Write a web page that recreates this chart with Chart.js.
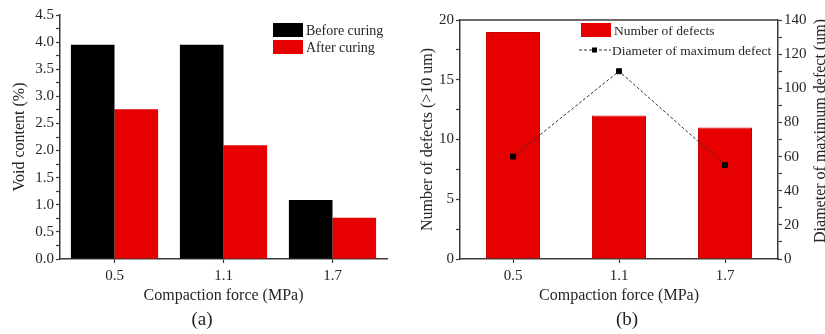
<!DOCTYPE html>
<html>
<head>
<meta charset="utf-8">
<script src="https://cdn.jsdelivr.net/npm/chart.js@4.4.0/dist/chart.umd.min.js"></script>
<style>
  body { margin: 0; background: #fff; }
  #wrap { position: relative; width: 825px; height: 334px; overflow: hidden; background: #fff; }
  canvas { position: absolute; top: 0; }
  .tag { position: absolute; top: 308px; font: 19px "Liberation Serif", serif; color: #222; transform: translateX(-50%); }
</style>
</head>
<body>
<div id="wrap">
  <canvas id="chartA" width="410" height="334" style="left:0"></canvas>
  <canvas id="chartB" width="415" height="334" style="left:410px"></canvas>
  <div class="tag" style="left:202px">(a)</div>
  <div class="tag" style="left:627px">(b)</div>
</div>
<script>
// data
const categories = ['0.5', '1.1', '1.7'];
const beforeCuring = [3.95, 3.95, 1.09];
const afterCuring = [2.76, 2.10, 0.76];
const defectCount = [19, 12, 11];
const maxDefectDiameter = [60, 110, 55];

const AXIS = '#3a3a3a';
const TEXT = '#262626';
const RED = '#e60000';

Chart.defaults.font.family = '"Liberation Serif", serif';
Chart.defaults.font.size = 15;
Chart.defaults.color = TEXT;

// labels only on every second tick, the others stay as minor ticks
function majorEvery(step, digits) {
  return v => Math.abs(v / step - Math.round(v / step)) < 1e-6 ? v.toFixed(digits) : '';
}

function axisGrid() {
  return {
    drawOnChartArea: false,
    drawTicks: true,
    tickLength: 4,
    tickColor: AXIS,
    tickWidth: 1.2
  };
}

// legend drawn inside the plot, like the original
function makeLegend(items, fontSize) {
  return {
    id: 'insideLegend',
    afterDraw(chart) {
      const ctx = chart.ctx;
      ctx.save();
      ctx.font = fontSize + 'px "Liberation Serif"';
      ctx.textBaseline = 'middle';
      items.forEach(it => {
        const ds = chart.data.datasets[it.index];
        if (it.kind === 'box') {
          ctx.fillStyle = ds.backgroundColor;
          ctx.fillRect(it.x, it.y, 30, 14);
        } else {
          ctx.strokeStyle = ds.borderColor;
          ctx.lineWidth = 1;
          ctx.setLineDash([3, 2]);
          ctx.beginPath();
          ctx.moveTo(it.x, it.y + 7);
          ctx.lineTo(it.x + 32, it.y + 7);
          ctx.stroke();
          ctx.setLineDash([]);
          ctx.fillStyle = '#000';
          ctx.fillRect(it.x + 13, it.y + 4.5, 5, 5);
        }
        ctx.fillStyle = TEXT;
        ctx.fillText(ds.label, it.x + 33, it.y + 8);
      });
      ctx.restore();
    }
  };
}

// chart (a)
new Chart(document.getElementById('chartA'), {
  type: 'bar',
  data: {
    labels: categories,
    datasets: [
      { label: 'Before curing', data: beforeCuring, backgroundColor: '#000', categoryPercentage: 0.8, barPercentage: 1.0 },
      { label: 'After curing', data: afterCuring, backgroundColor: RED, categoryPercentage: 0.8, barPercentage: 1.0 }
    ]
  },
  options: {
    responsive: false,
    animation: false,
    layout: { padding: { top: 15, right: 23, bottom: 29, left: 0 } },
    plugins: { legend: { display: false }, tooltip: { enabled: false } },
    scales: {
      x: {
        grid: Object.assign(axisGrid(), { offset: false }),
        border: { color: AXIS, width: 1.5 },
        ticks: { padding: 4 },
        title: { display: true, text: 'Compaction force (MPa)', font: { size: 16 }, padding: 0 },
        afterFit(scale) { scale.height = 46; }
      },
      y: {
        min: 0,
        max: 4.5,
        grid: axisGrid(),
        border: { color: AXIS, width: 1.5 },
        ticks: { stepSize: 0.25, autoSkip: false, padding: 2, callback: majorEvery(0.5, 1) },
        title: { display: true, text: 'Void content (%)', font: { size: 16 }, padding: { top: 10, bottom: 0 } },
        afterFit(scale) { scale.width = 60; }
      }
    }
  },
  plugins: [makeLegend([
    { index: 0, kind: 'box', x: 273, y: 23 },
    { index: 1, kind: 'box', x: 273, y: 40 }
  ], 14)]
});

// top border and the right-hand title of chart (b)
const frameB = {
  id: 'frameB',
  afterDraw(chart) {
    const { ctx, chartArea } = chart;
    ctx.save();
    ctx.strokeStyle = AXIS;
    ctx.lineWidth = 1.5;
    ctx.beginPath();
    ctx.moveTo(chartArea.left, chartArea.top);
    ctx.lineTo(chartArea.right, chartArea.top);
    ctx.stroke();
    ctx.translate(411, 131);
    ctx.rotate(-Math.PI / 2);
    ctx.textAlign = 'center';
    ctx.textBaseline = 'middle';
    ctx.font = '16px "Liberation Serif"';
    ctx.fillStyle = TEXT;
    ctx.fillText('Diameter of maximum defect (um)', 0, 0);
    ctx.restore();
  }
};

// chart (b)
new Chart(document.getElementById('chartB'), {
  type: 'bar',
  data: {
    labels: categories,
    datasets: [
      {
        label: 'Number of defects', data: defectCount, backgroundColor: RED,
        borderColor: '#c40000', borderWidth: 1, categoryPercentage: 1.0, barPercentage: 0.51,
        yAxisID: 'y', order: 1
      },
      {
        type: 'line', label: 'Diameter of maximum defect', data: maxDefectDiameter,
        borderColor: '#333', borderWidth: 1, borderDash: [3, 2], tension: 0,
        pointStyle: 'rect', pointRadius: 3.5, pointBackgroundColor: '#000', pointBorderColor: '#000',
        yAxisID: 'y1', order: 0
      }
    ]
  },
  options: {
    responsive: false,
    animation: false,
    layout: { padding: { top: 20, right: 0, bottom: 29, left: 0 } },
    plugins: { legend: { display: false }, tooltip: { enabled: false } },
    scales: {
      x: {
        grid: Object.assign(axisGrid(), { offset: false }),
        border: { color: AXIS, width: 1.5 },
        ticks: { padding: 4 },
        title: { display: true, text: 'Compaction force (MPa)', font: { size: 16 }, padding: 0 },
        afterFit(scale) { scale.height = 46; }
      },
      y: {
        position: 'left',
        min: 0,
        max: 20,
        grid: axisGrid(),
        border: { color: AXIS, width: 1.5 },
        ticks: { stepSize: 2.5, autoSkip: false, padding: 2, callback: majorEvery(5, 0) },
        title: { display: true, text: 'Number of defects (>10 um)', font: { size: 16 }, padding: { top: 8, bottom: 0 } },
        afterFit(scale) { scale.width = 50; }
      },
      y1: {
        position: 'right',
        min: 0,
        max: 140,
        grid: axisGrid(),
        border: { color: AXIS, width: 1.5 },
        ticks: { stepSize: 10, autoSkip: false, padding: 2, callback: majorEvery(20, 0) },
        afterFit(scale) { scale.width = 47; }
      }
    }
  },
  plugins: [makeLegend([
    { index: 0, kind: 'box', x: 171, y: 23 },
    { index: 1, kind: 'line', x: 169, y: 43 }
  ], 13.5), frameB]
});
</script>
</body>
</html>
